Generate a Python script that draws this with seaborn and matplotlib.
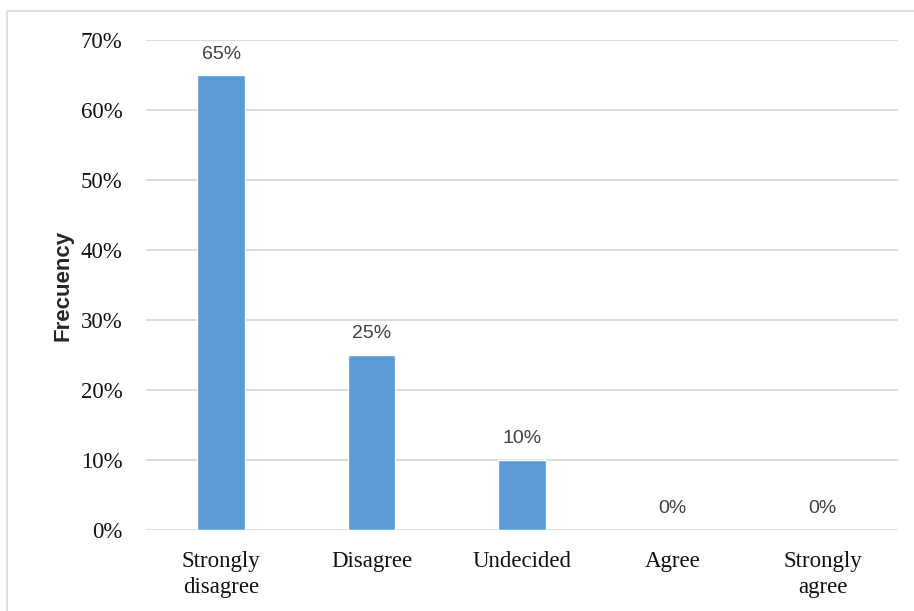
import matplotlib
matplotlib.use("Agg")
import matplotlib.pyplot as plt
from matplotlib.patches import Rectangle
import seaborn as sns
import pandas as pd

categories = ["Strongly\ndisagree", "Disagree", "Undecided", "Agree", "Strongly\nagree"]
values = [0.65, 0.25, 0.10, 0.0, 0.0]
value_labels = ["65%", "25%", "10%", "0%", "0%"]
y_ticks = [0.0, 0.1, 0.2, 0.3, 0.4, 0.5, 0.6, 0.7]
y_tick_labels = ["0%", "10%", "20%", "30%", "40%", "50%", "60%", "70%"]

sns.set_theme(style="white")
plt.rcParams["font.family"] = ["Liberation Serif", "DejaVu Serif"]

df = pd.DataFrame({"category": categories, "value": values})

fig = plt.figure(figsize=(9.14, 6.11), dpi=100)
ax = fig.add_axes([0.1597, 0.1326, 0.8228, 0.8019])

sns.barplot(data=df, x="category", y="value", color="#5b9bd5", width=0.315,
            saturation=1, ax=ax, zorder=3)

ax.set_ylim(0, 0.7)
ax.set_xlim(-0.5, 4.5)
ax.set_yticks(y_ticks)
ax.set_yticklabels(y_tick_labels, fontsize=16.5, color="#111111")
ax.set_xticks(range(len(categories)))
ax.set_xticklabels(categories, fontsize=16.5, color="#111111", linespacing=1.35)
ax.tick_params(axis="y", length=0, pad=17)
ax.tick_params(axis="x", length=0, pad=15)
ax.grid(axis="y", color="#d9d9d9", linewidth=1.3, zorder=0)
for s in ax.spines.values():
    s.set_visible(False)

ax.set_xlabel("")
ax.set_ylabel("Frecuency", fontsize=16, fontweight="bold",
              family=["Liberation Sans", "DejaVu Sans"], labelpad=5)

for i, (v, lab) in enumerate(zip(values, value_labels)):
    ax.annotate(lab, (i, v), xytext=(0, 9), textcoords="offset points",
                ha="center", va="bottom", fontsize=14, color="#404040",
                family=["Liberation Sans", "DejaVu Sans"])

fig.patches.append(Rectangle((7 / 914, -0.1), 1.2, (611 - 11) / 611 + 0.1,
                             transform=fig.transFigure, fill=False,
                             edgecolor="#d9d9d9", linewidth=1.2))

fig.savefig("out.png", dpi=100)
